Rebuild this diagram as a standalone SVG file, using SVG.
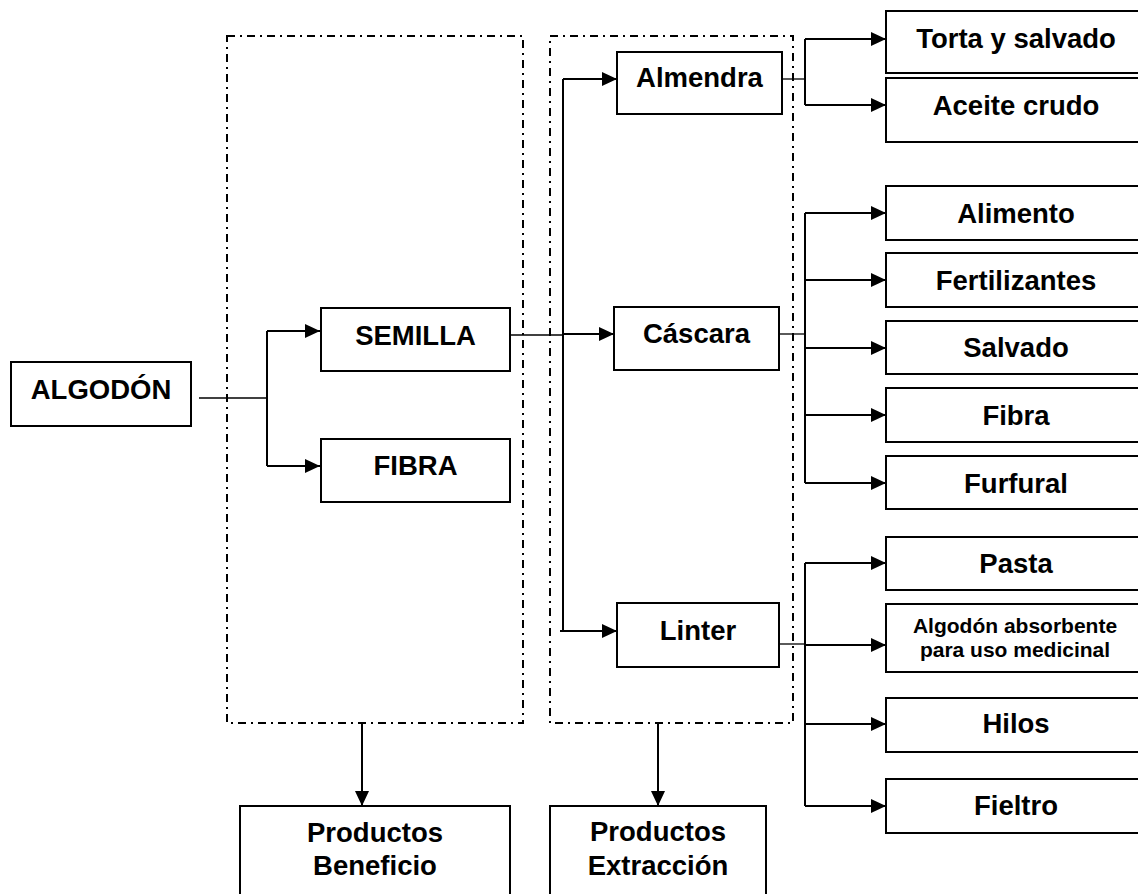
<svg xmlns="http://www.w3.org/2000/svg" width="1138" height="894" viewBox="0 0 1138 894">
<style>
.box{fill:#fff;stroke:#000;stroke-width:2}
.grp{fill:none;stroke:#000;stroke-width:2;stroke-dasharray:8 5 2 5}
.t{font-family:"Liberation Sans",Arial,sans-serif;font-weight:bold;font-size:27.5px;text-anchor:middle;fill:#000}
.s{font-size:21px}
.c{fill:none;stroke:#000;stroke-width:2}
.thin{fill:none;stroke:#000;stroke-width:1.3}
.a{marker-end:url(#ah)}
</style>
<defs>
<marker id="ah" markerUnits="userSpaceOnUse" markerWidth="15" markerHeight="14" refX="15" refY="7" orient="auto">
<path d="M0,0 L15,7 L0,14 Z" fill="#000"/>
</marker>
</defs>
<rect width="1138" height="894" fill="#fff"/>

<g id="grupo-beneficio"><rect class="grp" x="227" y="36" width="296" height="687"/></g>
<g id="grupo-extraccion"><rect class="grp" x="550" y="36" width="243" height="687"/></g>

<g id="connectors">
<path class="thin" d="M199,398 H267"/>
<path class="c" d="M267,331 V466"/>
<path class="c a" d="M267,331 H320"/>
<path class="c a" d="M267,466 H320"/>

<path class="thin" d="M510,335 H563"/>
<path class="c" d="M563,79 V631"/>
<path class="c a" d="M563,79 H617"/>
<path class="c a" d="M563,334 H614"/>
<path class="c a" d="M560,631 H617"/>

<path class="thin" d="M778,79 H805"/>
<path class="c" d="M805,39 V105"/>
<path class="c a" d="M805,39 H886"/>
<path class="c a" d="M805,105 H886"/>

<path class="thin" d="M779,334 H805"/>
<path class="c" d="M805,213 V483"/>
<path class="c a" d="M805,213 H886"/>
<path class="c a" d="M805,280 H886"/>
<path class="c a" d="M805,348 H886"/>
<path class="c a" d="M805,415 H886"/>
<path class="c a" d="M805,483 H886"/>

<path class="thin" d="M779,644 H805"/>
<path class="c" d="M805,563 V806"/>
<path class="c a" d="M805,563 H886"/>
<path class="c a" d="M805,645 H886"/>
<path class="c a" d="M805,724 H886"/>
<path class="c a" d="M805,806 H886"/>

<path class="c a" d="M362,723 V806"/>
<path class="c a" d="M658,723 V806"/>
</g>

<g id="algodon"><rect class="box" x="11" y="362" width="180" height="64"/><text class="t" x="101" y="399">ALGODÓN</text></g>
<g id="semilla"><rect class="box" x="321" y="308" width="189" height="63"/><text class="t" x="415.5" y="345">SEMILLA</text></g>
<g id="fibra1"><rect class="box" x="321" y="439" width="189" height="63"/><text class="t" x="415.5" y="475">FIBRA</text></g>

<g id="almendra"><rect class="box" x="617" y="52" width="165" height="62"/><text class="t" x="699.5" y="87">Almendra</text></g>
<g id="cascara"><rect class="box" x="614" y="307" width="165" height="63"/><text class="t" x="696.5" y="343">Cáscara</text></g>
<g id="linter"><rect class="box" x="617" y="603" width="162" height="64"/><text class="t" x="698" y="640">Linter</text></g>

<g id="torta"><rect class="box" x="886" y="11" width="262" height="62"/><text class="t" x="1016" y="48">Torta y salvado</text></g>
<g id="aceite"><rect class="box" x="886" y="78" width="262" height="64"/><text class="t" x="1016" y="115">Aceite crudo</text></g>

<g id="alimento"><rect class="box" x="886" y="186" width="262" height="54"/><text class="t" x="1016" y="223">Alimento</text></g>
<g id="fertilizantes"><rect class="box" x="886" y="253" width="262" height="54"/><text class="t" x="1016" y="290">Fertilizantes</text></g>
<g id="salvado"><rect class="box" x="886" y="321" width="262" height="53"/><text class="t" x="1016" y="357">Salvado</text></g>
<g id="fibra2"><rect class="box" x="886" y="388" width="262" height="54"/><text class="t" x="1016" y="425">Fibra</text></g>
<g id="furfural"><rect class="box" x="886" y="456" width="262" height="53"/><text class="t" x="1016" y="493">Furfural</text></g>

<g id="pasta"><rect class="box" x="886" y="537" width="262" height="53"/><text class="t" x="1016" y="573">Pasta</text></g>
<g id="absorbente"><rect class="box" x="886" y="604" width="262" height="68"/><text class="t s" x="1015" y="633">Algodón absorbente</text><text class="t s" x="1015" y="657">para uso medicinal</text></g>
<g id="hilos"><rect class="box" x="886" y="698" width="262" height="54"/><text class="t" x="1016" y="733">Hilos</text></g>
<g id="fieltro"><rect class="box" x="886" y="779" width="262" height="54"/><text class="t" x="1016" y="815">Fieltro</text></g>

<g id="prod-beneficio"><rect class="box" x="240" y="806" width="270" height="110"/><text class="t" x="375" y="842">Productos</text><text class="t" x="375" y="875">Beneficio</text></g>
<g id="prod-extraccion"><rect class="box" x="550" y="806" width="216" height="110"/><text class="t" x="658" y="841">Productos</text><text class="t" x="658" y="875">Extracción</text></g>
</svg>
